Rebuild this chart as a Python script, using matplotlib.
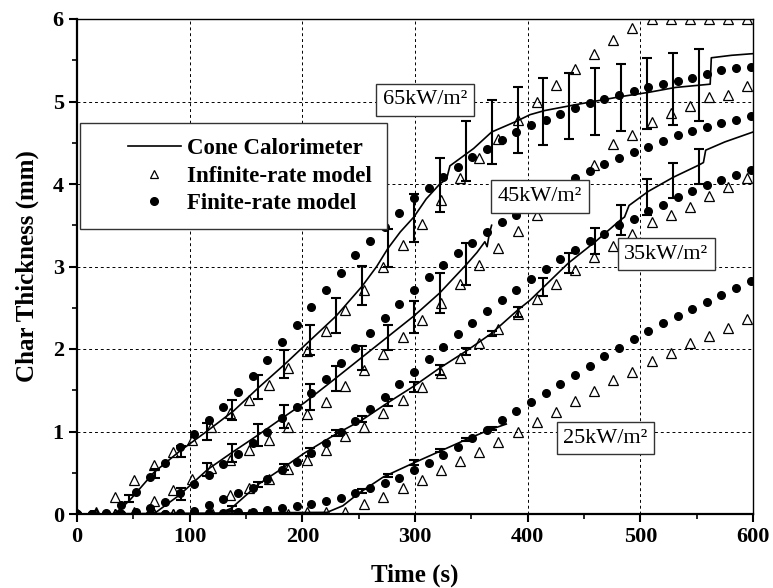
import matplotlib.pyplot as plt
from matplotlib.lines import Line2D
from matplotlib.legend_handler import HandlerLine2D

plt.rcParams['font.family'] = ['Liberation Serif', 'DejaVu Serif']

# model output times (s)
t_finite = [0, 13, 26, 39, 52, 65, 78, 91, 104, 117, 130, 143, 156, 169, 182, 195,
            208, 221, 234, 247, 260, 273, 286, 299, 312, 325, 338, 351, 364, 377,
            390, 403, 416, 429, 442, 455, 468, 481, 494, 507, 520, 533, 546, 559,
            572, 585, 598]
t_infinite = [0, 17, 34, 51, 68, 85, 102, 119, 136, 153, 170, 187, 204, 221, 238,
              255, 272, 289, 306, 323, 340, 357, 374, 391, 408, 425, 442, 459, 476,
              493, 510, 527, 544, 561, 578, 595]

# finite-rate model (mm)
fin_25 = [0, 0, 0, 0, 0, 0, 0, 0, 0.01, 0.01, 0.01, 0.02, 0.03, 0.05, 0.07, 0.10,
          0.12, 0.16, 0.20, 0.26, 0.31, 0.38, 0.44, 0.53, 0.62, 0.72, 0.81, 0.92,
          1.02, 1.14, 1.25, 1.36, 1.47, 1.58, 1.69, 1.80, 1.91, 2.01, 2.12, 2.22,
          2.31, 2.40, 2.48, 2.57, 2.66, 2.74, 2.82]
fin_35 = [0, 0, 0, 0, 0, 0, 0, 0.01, 0.04, 0.11, 0.18, 0.25, 0.32, 0.42, 0.53, 0.63,
          0.74, 0.86, 0.99, 1.13, 1.27, 1.42, 1.58, 1.72, 1.88, 2.03, 2.18, 2.32,
          2.46, 2.59, 2.72, 2.85, 2.97, 3.09, 3.20, 3.31, 3.40, 3.50, 3.58, 3.67,
          3.75, 3.84, 3.92, 3.99, 4.05, 4.11, 4.17]
fin_45 = [0, 0, 0, 0, 0.02, 0.07, 0.15, 0.26, 0.36, 0.47, 0.61, 0.73, 0.86, 1.00,
          1.16, 1.30, 1.47, 1.64, 1.83, 2.01, 2.19, 2.37, 2.55, 2.71, 2.87, 3.02,
          3.16, 3.29, 3.42, 3.54, 3.63, 3.72, 3.83, 3.95, 4.07, 4.16, 4.24, 4.32,
          4.39, 4.45, 4.52, 4.59, 4.64, 4.69, 4.74, 4.78, 4.82]
fin_65 = [0, 0, 0.01, 0.11, 0.27, 0.45, 0.62, 0.81, 0.97, 1.14, 1.30, 1.48, 1.67,
          1.87, 2.08, 2.29, 2.51, 2.72, 2.92, 3.14, 3.31, 3.48, 3.65, 3.83, 3.95,
          4.08, 4.21, 4.33, 4.43, 4.53, 4.63, 4.72, 4.78, 4.85, 4.92, 4.98, 5.03,
          5.08, 5.13, 5.18, 5.21, 5.25, 5.29, 5.33, 5.38, 5.40, 5.42]

# infinite-rate model (mm)
inf_25 = [0, 0, 0, 0, 0, 0, 0, 0, 0, 0, 0, 0, 0.02, 0.02, 0.03, 0.12, 0.21, 0.31,
          0.41, 0.53, 0.64, 0.75, 0.87, 0.99, 1.12, 1.24, 1.37, 1.49, 1.62, 1.72,
          1.85, 1.95, 2.07, 2.16, 2.26, 2.36]
inf_35 = [0, 0, 0, 0, 0, 0, 0, 0.04, 0.23, 0.31, 0.42, 0.55, 0.65, 0.77, 0.94, 1.06,
          1.22, 1.38, 1.54, 1.71, 1.89, 2.07, 2.24, 2.43, 2.61, 2.79, 2.96, 3.11,
          3.25, 3.40, 3.54, 3.63, 3.72, 3.86, 3.96, 4.07]
inf_45 = [0, 0, 0, 0.02, 0.16, 0.29, 0.43, 0.56, 0.65, 0.78, 0.90, 1.06, 1.21, 1.36,
          1.55, 1.75, 1.94, 2.15, 2.35, 2.56, 2.79, 3.02, 3.23, 3.43, 3.62, 3.83,
          4.04, 4.23, 4.48, 4.60, 4.75, 4.86, 4.95, 5.05, 5.08, 5.19]
inf_65 = [0, 0.02, 0.21, 0.41, 0.59, 0.75, 0.90, 1.06, 1.22, 1.38, 1.56, 1.77, 1.98,
          2.22, 2.47, 2.72, 3.00, 3.26, 3.52, 3.81, 4.07, 4.31, 4.55, 4.78, 5.00,
          5.20, 5.39, 5.57, 5.75, 5.89, 6.0, 6.0, 6.0, 6.0, 6.0, 6.0]

# cone calorimeter measurements
cone_25_t = [0, 222, 236, 250, 272, 299, 322, 345, 366, 381]
cone_25_y = [0, 0.02, 0.10, 0.25, 0.45, 0.62, 0.76, 0.90, 1.02, 1.09]
cone_35_t = [0, 125, 137, 161, 184, 202, 230, 253, 276, 299, 322, 346, 368, 391,
             402, 436, 460, 482, 486, 490, 507, 529, 552, 556, 558, 575, 600]
cone_35_y = [0, 0, 0.07, 0.36, 0.57, 0.74, 0.97, 1.14, 1.35, 1.55, 1.77, 1.98, 2.19,
             2.47, 2.59, 3.04, 3.30, 3.56, 3.60, 3.74, 3.91, 4.08, 4.23, 4.26, 4.41,
             4.51, 4.63]
cone_45_t = [0, 65, 70, 91, 116, 137, 161, 184, 202, 230, 253, 276, 299, 322, 346,
             355, 362, 364, 366, 368]
cone_45_y = [0, 0, 0.02, 0.23, 0.54, 0.74, 0.96, 1.18, 1.35, 1.65, 1.90, 2.15, 2.40,
             2.68, 3.03, 3.17, 3.30, 3.24, 3.40, 3.50]
cone_65_t = [0, 33, 40, 47, 68, 91, 115, 139, 161, 184, 205, 230, 253, 266, 276, 287,
             299, 310, 322, 328, 331, 340, 352, 368, 390, 402, 415, 442, 483, 507,
             531, 562, 563, 581, 600]
cone_65_y = [0, 0, 0.08, 0.17, 0.50, 0.76, 1.00, 1.25, 1.53, 1.81, 2.08, 2.40, 2.76,
             3.00, 3.22, 3.42, 3.60, 3.82, 4.00, 4.06, 4.22, 4.31, 4.43, 4.63, 4.76,
             4.84, 4.89, 4.96, 5.06, 5.11, 5.17, 5.21, 5.53, 5.56, 5.58]

# error bars (centre, half width)
err_25_t = [253, 276, 299, 322, 345, 368]
err_25_c = [0.28, 0.47, 0.62, 0.77, 0.90, 1.04]
err_25_h = [0.02, 0.02, 0.03, 0.02, 0.02, 0.02]
err_35_t = [138, 161, 184, 207, 230, 253, 276, 299, 322, 345, 368, 391, 414, 437,
            460, 483, 506, 529, 552]
err_35_c = [0.07, 0.36, 0.57, 0.75, 0.98, 1.15, 1.35, 1.54, 1.75, 1.97, 2.19, 2.45,
            2.75, 3.04, 3.31, 3.56, 3.84, 4.04, 4.21]
err_35_h = [0.03, 0.03, 0.04, 0.05, 0.04, 0.04, 0.04, 0.06, 0.06, 0.04, 0.03, 0.06,
            0.11, 0.12, 0.16, 0.18, 0.22, 0.21, 0.21]
err_45_t = [92, 115, 138, 161, 184, 207, 230, 253, 276, 299, 322, 345]
err_45_c = [0.24, 0.54, 0.74, 0.96, 1.18, 1.42, 1.64, 1.89, 2.14, 2.39, 2.68, 3.03]
err_45_h = [0.07, 0.08, 0.11, 0.13, 0.14, 0.16, 0.15, 0.15, 0.15, 0.19, 0.24, 0.26]
err_65_t = [46, 69, 92, 115, 138, 161, 184, 207, 230, 253, 276, 299, 322, 345, 368,
            391, 414, 437, 460, 483, 506, 529, 552]
err_65_c = [0.19, 0.49, 0.76, 1.00, 1.26, 1.54, 1.82, 2.11, 2.41, 2.77, 3.22, 3.59,
            3.99, 4.40, 4.63, 4.77, 4.88, 4.95, 5.00, 5.05, 5.10, 5.15, 5.20]
err_65_h = [0.04, 0.05, 0.07, 0.10, 0.12, 0.14, 0.17, 0.18, 0.21, 0.24, 0.23, 0.29,
            0.33, 0.36, 0.39, 0.40, 0.41, 0.40, 0.41, 0.41, 0.43, 0.44, 0.44]

flux_labels = ['25kW/m²', '35kW/m²', '45kW/m²', '65kW/m²']
label_pos = [(469, 0.92), (523, 3.15), (411, 3.85), (309, 5.02)]

fig = plt.figure(figsize=(7.73, 5.88), dpi=100)
ax = fig.add_axes([77 / 773, 1 - 514 / 588, 676 / 773, 495 / 588])

cones = [(cone_25_t, cone_25_y), (cone_35_t, cone_35_y),
         (cone_45_t, cone_45_y), (cone_65_t, cone_65_y)]
errs = [(err_25_t, err_25_c, err_25_h), (err_35_t, err_35_c, err_35_h),
        (err_45_t, err_45_c, err_45_h), (err_65_t, err_65_c, err_65_h)]
for (ct, cy), (et, ec, eh) in zip(cones, errs):
    ax.plot(ct, cy, color='black', lw=1.2, zorder=3)
    ax.errorbar(et, ec, yerr=eh, fmt='none', ecolor='black', elinewidth=1.5,
                capsize=3.5, capthick=1.5, zorder=3)

for fy in [fin_25, fin_35, fin_45, fin_65]:
    ax.plot(t_finite, fy, ls='none', marker='o', ms=5.5, color='black', zorder=4)
for iy in [inf_25, inf_35, inf_45, inf_65]:
    ax.plot(t_infinite, iy, ls='none', marker='^', ms=7, mfc='none', mec='black',
            mew=0.9, zorder=4)

for txt, (x, y) in zip(flux_labels, label_pos):
    ax.text(x, y, txt, ha='center', va='center', fontsize=16, zorder=6,
            bbox=dict(boxstyle='square,pad=0.3', fc='white', ec='#333333', lw=1))

ax.set_xlim(0, 600)
ax.set_ylim(0, 6)
ax.set_xticks(range(0, 601, 100))
ax.set_xticks(range(50, 600, 100), minor=True)
ax.set_yticks(range(0, 7))
ax.set_yticks([0.5, 1.5, 2.5, 3.5, 4.5, 5.5], minor=True)
ax.tick_params(which='major', direction='out', length=6, width=1.5, labelsize=16)
ax.tick_params(which='minor', direction='out', length=3.5, width=1.2)
for lab in ax.get_xticklabels() + ax.get_yticklabels():
    lab.set_fontweight('bold')
ax.grid(True, which='major', ls=(0, (3, 3)), color='black', lw=0.7)
for side in ['left', 'bottom']:
    ax.spines[side].set_linewidth(1.6)
for side in ['top', 'right']:
    ax.spines[side].set_linewidth(1.0)

ax.set_xlabel('Time (s)', fontsize=18, fontweight='bold', labelpad=12)
ax.set_ylabel('Char Thickness (mm)', fontsize=18, fontweight='bold', labelpad=10)

h_line = Line2D([], [], color='black', lw=1.2)
h_tri = Line2D([], [], ls='none', marker='^', ms=6, mfc='none', mec='black', mew=0.9)
h_dot = Line2D([], [], ls='none', marker='o', ms=5.5, color='black')
pad = HandlerLine2D(xpad=1.45)
leg = ax.legend([h_line, h_tri, h_dot],
                ['Cone Calorimeter', 'Infinite-rate model', 'Finite-rate model'],
                loc='upper left', bbox_to_anchor=(80 / 773, 1 - 122.7 / 588),
                bbox_transform=fig.transFigure, borderaxespad=0,
                prop=dict(weight='bold', size=16.5), handlelength=3.75,
                handletextpad=0.28, borderpad=0.65, labelspacing=0.3,
                handler_map={h_line: pad, h_tri: pad, h_dot: pad},
                fancybox=False, framealpha=1, edgecolor='#333333')
leg.get_frame().set_linewidth(1.0)
leg.set_zorder(7)

fig.savefig('out.png', dpi=100)
